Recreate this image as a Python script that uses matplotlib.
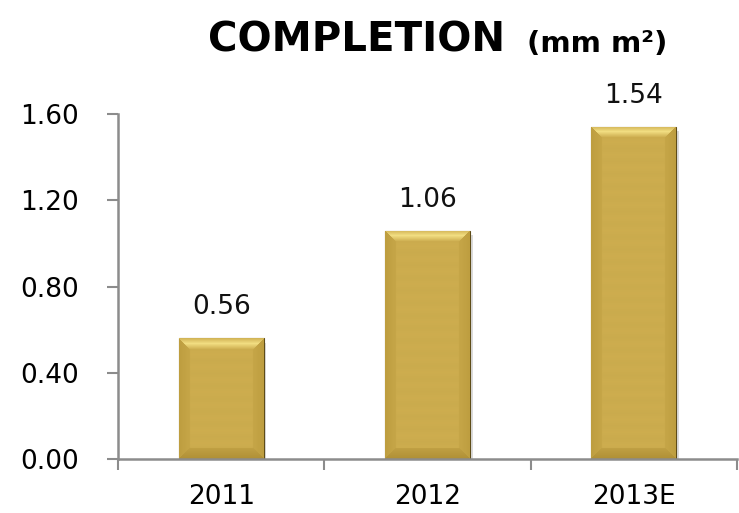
import numpy as np
import matplotlib.pyplot as plt
import matplotlib.patheffects as pe

years = ["2011", "2012", "2013E"]
completion = [0.56, 1.06, 1.54]
yticks = [0.00, 0.40, 0.80, 1.20, 1.60]

plt.rcParams['font.family'] = ['DejaVu Sans']

fig = plt.figure(figsize=(7.39, 5.13), dpi=100)
ax = fig.add_axes([0.160, 0.105, 0.837, 0.6725])

x = np.arange(len(years))
bw = 0.41
bars = ax.bar(x, completion, width=bw, color="#c9a94b", edgecolor="#5e4c18",
              linewidth=0.8, zorder=2)
for b in bars:
    b.set_path_effects([pe.SimplePatchShadow(offset=(2, -3), shadow_rgbFace="#888888", alpha=0.3),
                        pe.Normal()])

ax.set_xlim(-0.5, len(years) - 0.5)
ax.set_ylim(0, 1.6)


def bevel_image(w, h, bev=11):
    # gold face with a light top bevel, slightly darker sides and bottom
    base = np.array([204, 172, 78]) / 255.0
    top = np.array([242, 222, 130]) / 255.0
    side = np.array([190, 158, 64]) / 255.0
    bot = np.array([176, 144, 54]) / 255.0
    img = np.ones((h, w, 3)) * base
    yy, xx = np.mgrid[0:h, 0:w]
    dl, dr, dt, db = xx, w - 1 - xx, yy, h - 1 - yy
    dmin = np.minimum(np.minimum(dl, dr), np.minimum(dt, db))
    inb = dmin < bev
    which = np.argmin(np.stack([dt, db, dl, dr]), axis=0)
    for k, c in enumerate([top, bot, side, side]):
        m = inb & (which == k)
        t = dmin[m] / bev
        if k == 0:
            # highlight peaks in the middle of the top bevel
            wgt = 1 - np.abs(t - 0.45) / 0.55
        else:
            wgt = 1 - t * 0.6
        img[m] = c * wgt[:, None] + base * (1 - wgt[:, None])
    # faint horizontal banding on the face
    img[~inb] *= (1 + 0.006 * np.sin(yy[~inb] / 2.0))[:, None]
    return np.clip(img, 0, 1)


fig.canvas.draw()
for b, v in zip(bars, completion):
    bb = b.get_window_extent()
    img = bevel_image(max(int(bb.width), 2), max(int(bb.height), 2))
    im = ax.imshow(img, extent=(b.get_x(), b.get_x() + bw, 0, v), aspect='auto',
                   zorder=2.5, interpolation='bilinear')
    im.set_clip_path(b)
    ax.annotate(f"{v:.2f}", (b.get_x() + bw / 2, v), xytext=(0, 13),
                textcoords='offset points', ha='center', va='bottom',
                fontsize=19, color="#111111")

ax.set_xlim(-0.5, len(years) - 0.5)
ax.set_ylim(0, 1.6)

for s in ["top", "right"]:
    ax.spines[s].set_visible(False)
for s in ["left", "bottom"]:
    ax.spines[s].set_color("#8c8c8c")
    ax.spines[s].set_linewidth(1.8)

ax.set_yticks(yticks)
ax.set_yticklabels([f"{t:.2f}" for t in yticks])
ax.tick_params(axis='y', length=8, width=1.5, color="#8c8c8c", labelsize=19, pad=20)

ax.set_xticks(x)
ax.set_xticklabels(years)
ax.set_xticks(np.arange(-0.5, len(years)), minor=True)
ax.tick_params(axis='x', which='major', length=0, labelsize=19, pad=18)
ax.tick_params(axis='x', which='minor', length=8, width=1.5, color="#8c8c8c")

fig.text(0.683, 0.899, "COMPLETION", ha='right', va='baseline',
         fontsize=29, fontweight='bold')
fig.text(0.713, 0.899, "(mm m²)", ha='left', va='baseline',
         fontsize=21, fontweight='bold')

fig.savefig("out.png", dpi=100)
